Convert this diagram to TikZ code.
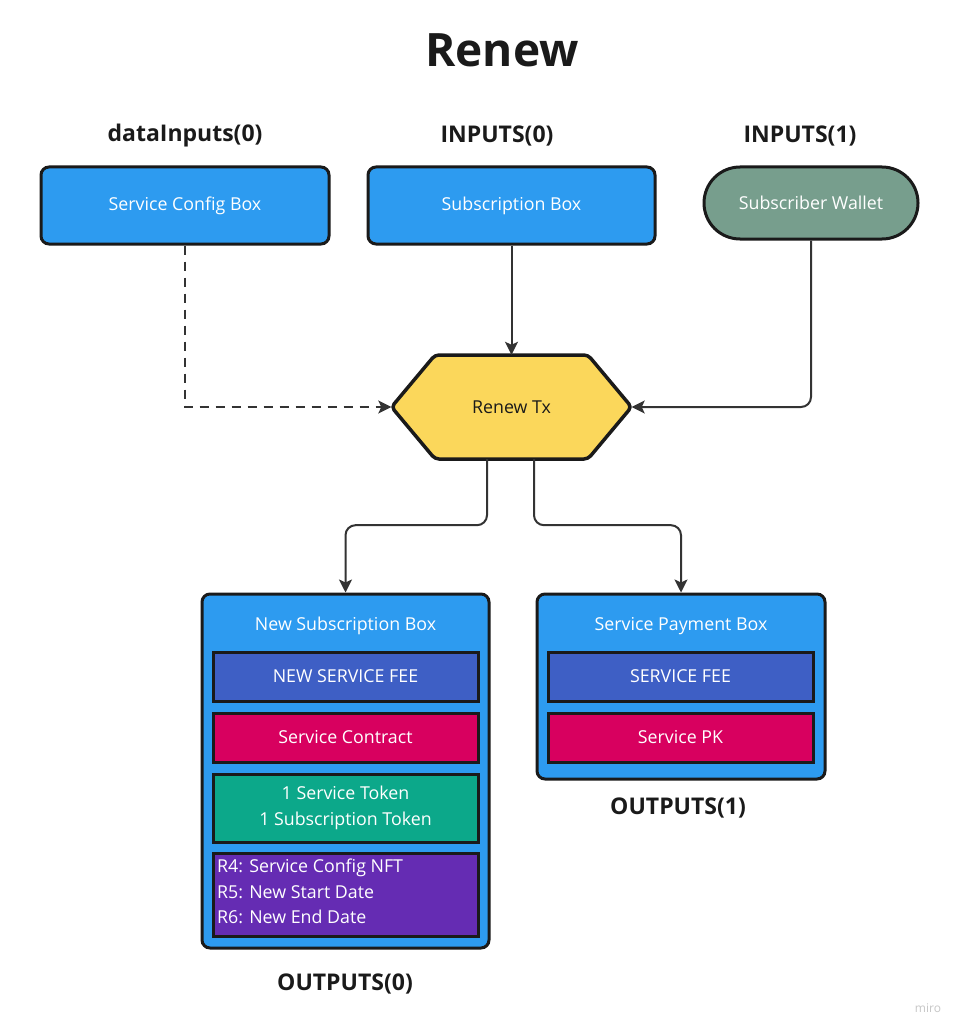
\documentclass[tikz,border=0pt]{standalone}
\usepackage{fontspec}
\setmainfont{Open Sans}
\usetikzlibrary{arrows.meta}
\definecolor{boxblue}{HTML}{2D9BF0}
\definecolor{edge}{HTML}{1A1A1A}
\definecolor{wallet}{HTML}{779E8D}
\definecolor{hexyellow}{HTML}{FBD75B}
\definecolor{feeblue}{HTML}{3E5FC5}
\definecolor{magenta}{HTML}{D8005F}
\definecolor{teal}{HTML}{0CA88A}
\definecolor{purple}{HTML}{652CB3}
\definecolor{conncol}{HTML}{333333}
\definecolor{labelcol}{HTML}{1A1A1A}
\begin{document}
\begin{tikzpicture}[x=1pt,y=-1pt,
  boxtext/.style={font=\fontsize{17.8}{22}\selectfont},
  bigbox/.style={draw=edge, line width=3pt, fill=boxblue, rounded corners=8pt, text=white, boxtext, inner sep=0pt},
  innerbox/.style={draw=edge, line width=3pt, text=white, boxtext, inner sep=0pt, minimum width=265pt, align=center},
  heading/.style={font=\bfseries\fontsize{23}{27}\selectfont, text=labelcol, inner sep=0pt},
  conn/.style={draw=conncol, line width=2pt, rounded corners=10pt, -{Stealth[length=13pt,width=13pt,inset=3pt]}},
  dashconn/.style={conn, dash pattern=on 9pt off 7pt, rounded corners=0pt}
]
\useasboundingbox[fill=white] (0,0) rectangle (965,1035);

% title
\node[font=\bfseries\fontsize{46}{52}\selectfont, text=labelcol, inner sep=0pt] (title) at (502,50) {Renew};

% headings
\node[heading] (h1) at (185,136) {dataInputs(0)};
\node[heading] (h2) at (497,136) {INPUTS(0)};
\node[heading] (h3) at (800,136) {INPUTS(1)};

% input boxes
\node[bigbox, minimum width=288pt, minimum height=77pt] (scb) at (185,205.5) {Service Config Box};
\node[bigbox, minimum width=287pt, minimum height=77pt] (sub) at (511.5,205.5) {Subscription Box};
\node[bigbox, fill=wallet, rounded corners=36pt, minimum width=214pt, minimum height=72pt] (wal) at (811,203) {Subscriber Wallet};

% hexagon
\draw[draw=edge, line width=3.5pt, fill=hexyellow, rounded corners=4pt, line join=round]
  (435,355) -- (588,355) -- (631.5,407) -- (588,459) -- (435,459) -- (391.5,407) -- cycle;
\node[minimum width=240pt, minimum height=104pt, inner sep=0pt, text=labelcol, boxtext] (tx) at (511.5,407) {Renew Tx};

% output boxes
\node[bigbox, minimum width=287pt, minimum height=354pt] (nsb) at (345.5,771) {};
\node[text=white, boxtext, inner sep=0pt] (nsbt) at (345.5,626) {New Subscription Box};
\node[innerbox, fill=feeblue, minimum height=49pt] (fee1) at (345.5,676.5) {NEW SERVICE FEE};
\node[innerbox, fill=magenta, minimum height=49pt] (con) at (345.5,737.5) {Service Contract};
\node[innerbox, fill=teal, minimum height=68pt, font=\fontsize{17.8}{26}\selectfont] (tok) at (345.5,808) {1 Service Token\\1 Subscription Token};
\node[innerbox, fill=purple, minimum height=83pt] (reg) at (345.5,894.5) {};
\node[anchor=west, text=white, inner sep=0pt, align=left, font=\fontsize{17.8}{25.5}\selectfont] (regt) at (217,891.5) {R4: Service Config NFT\\R5: New Start Date\\R6: New End Date};

\node[bigbox, minimum width=288pt, minimum height=185pt] (spb) at (681,686.5) {};
\node[text=white, boxtext, inner sep=0pt] (spbt) at (681,626) {Service Payment Box};
\node[innerbox, fill=feeblue, minimum height=49pt] (fee2) at (680.5,676.5) {SERVICE FEE};
\node[innerbox, fill=magenta, minimum height=49pt] (pk) at (680.5,737.5) {Service PK};

\node[heading] (o1) at (678,808) {OUTPUTS(1)};
\node[heading] (o0) at (345,984) {OUTPUTS(0)};

\node[text=black!22, font=\fontsize{12}{14}\selectfont, inner sep=0pt] (miro) at (928,1008) {miro};

% connectors
\draw[dashconn] (scb.south) |- (tx.west);
\draw[conn] (sub.south) -- (tx.north);
\draw[conn] (wal.south) |- (tx.east);
\draw[conn] ([xshift=-24.5pt]tx.south) -- ++(0,66) -| (nsb.north);
\draw[conn] ([xshift=22.5pt]tx.south) -- ++(0,66) -| (spb.north);
\end{tikzpicture}
\end{document}
